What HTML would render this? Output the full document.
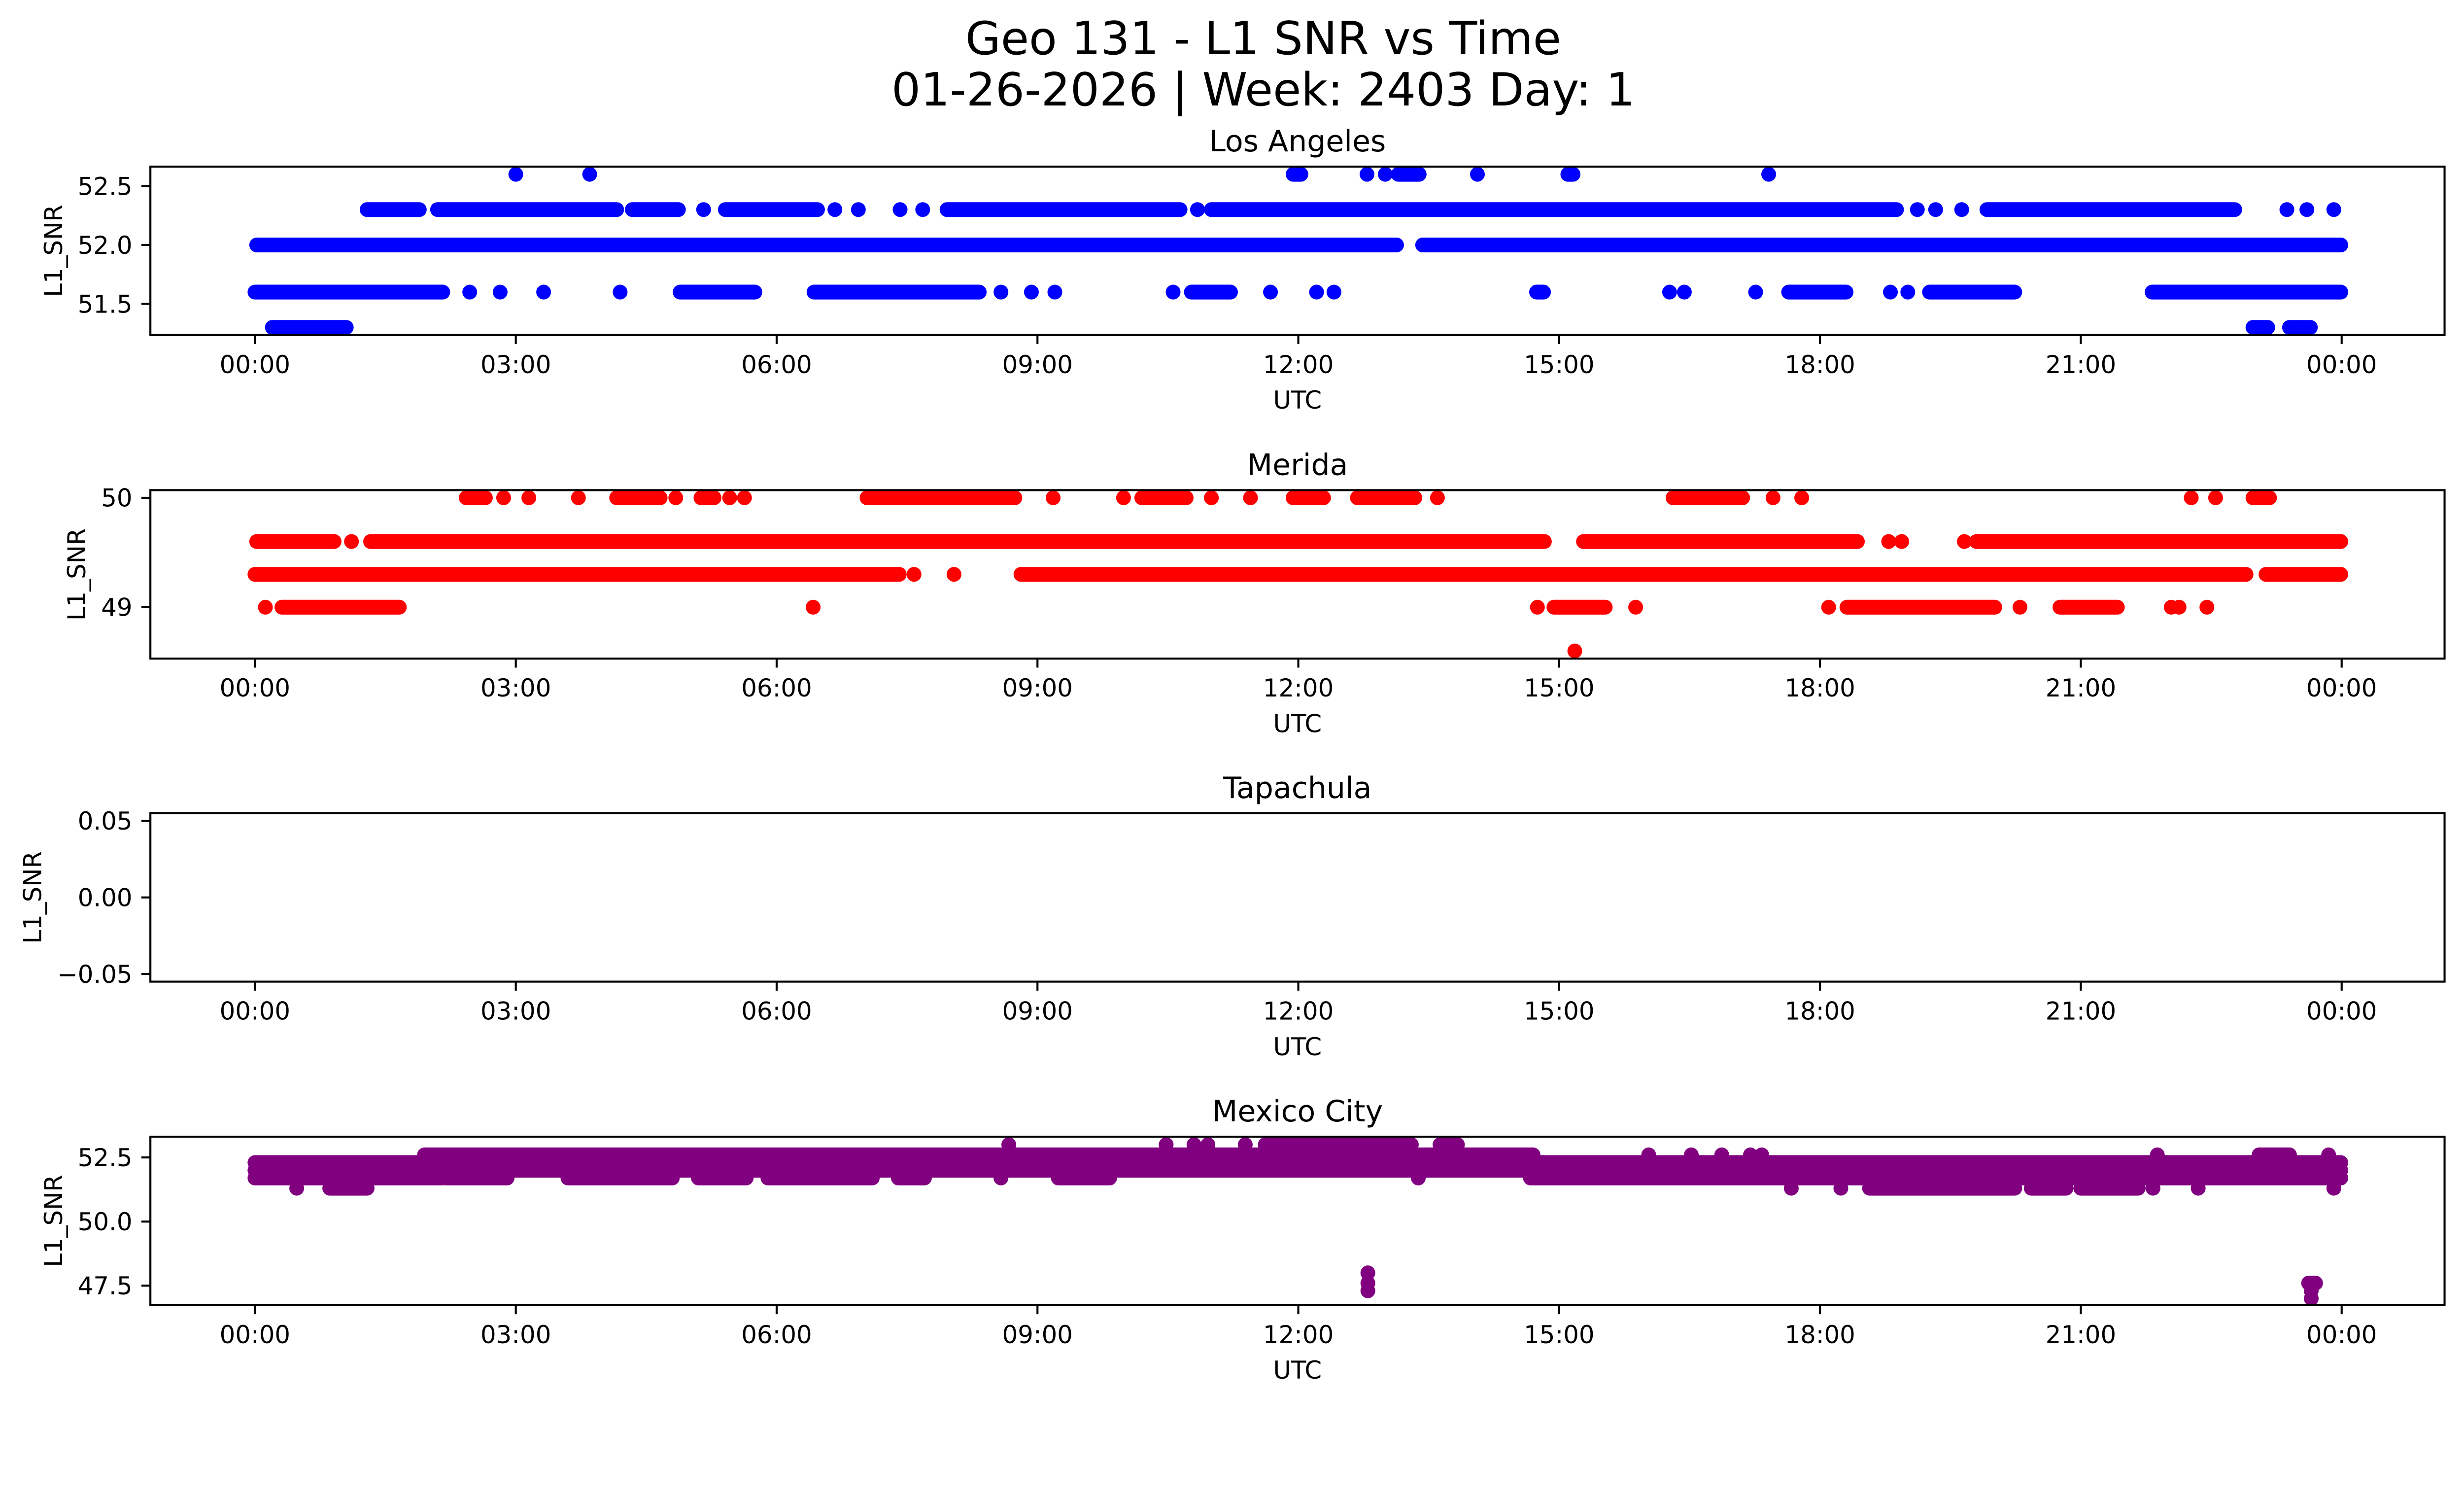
<!DOCTYPE html>
<html><head><meta charset="utf-8"><style>
html,body{margin:0;padding:0;background:#fff;overflow:hidden;}
svg{display:block;width:100vw;height:calc(100vw * 3033 / 5325);font-family:"DejaVu Sans","Liberation Sans",sans-serif;}
</style></head><body>
<svg id="fig" viewBox="0 0 5325 3033" preserveAspectRatio="none" xmlns="http://www.w3.org/2000/svg">
<rect x="0" y="0" width="5325" height="3033" fill="#fff"/>
<text x="2730" y="117" font-size="99" text-anchor="middle">Geo 131 - L1 SNR vs Time</text>
<text x="2730" y="228" font-size="99" text-anchor="middle">01-26-2026 | Week: 2403 Day: 1</text>
</svg>
<script>
// ---- data ----
const xTickHours = [0,3,6,9,12,15,18,21,24];
const xTickLabels = ["00:00","03:00","06:00","09:00","12:00","15:00","18:00","21:00","00:00"];
const stationNames = ["Los Angeles","Merida","Tapachula","Mexico City"];
const stationColors = ["#0000ff","#ff0000","#800080","#800080"];

const laLevels = [52.6,52.3,52.0,51.6,51.3];
const laRuns = [
 [[3.0],[3.85],[11.94,12.03],[12.79],[13.0],[13.15,13.39],[14.06],[15.1,15.16],[17.41]],
 [[1.29,1.89],[2.10,4.16],[4.34,4.87],[5.16],[5.41,6.47],[6.67],[6.94],[7.42],[7.68],[7.96,10.64],[10.84],[11.0,18.88],[19.12],[19.33],[19.63],[19.92,22.77],[23.37],[23.6],[23.91]],
 [[0.02,13.13],[13.43,23.99]],
 [[0,2.16],[2.47],[2.82],[3.32],[4.2],[4.89,5.75],[6.43,8.33],[8.58],[8.93],[9.2],[10.56],[10.77,11.22],[11.68],[12.21],[12.41],[14.74,14.82],[16.27],[16.44],[17.26],[17.64,18.3],[18.81],[19.01],[19.26,20.24],[21.82,23.99]],
 [[0.2,1.05],[22.98,23.15],[23.4,23.64]]
];
const laYTicks = [51.5,52.0,52.5];
const laYTickLabels = ["51.5","52.0","52.5"];
const laYLim = [51.235,52.665];

const meLevels = [50.0,49.6,49.3,49.0,48.6];
const meRuns = [
 [[2.43,2.65],[2.86],[3.15],[3.72],[4.16,4.66],[4.84],[5.13,5.28],[5.46],[5.63],[7.04,8.74],[9.18],[9.99],[10.2,10.71],[11.0],[11.45],[11.94,12.29],[12.68,13.34],[13.6],[16.31,17.11],[17.46],[17.79],[22.27],[22.55],[22.98,23.17]],
 [[0.02,0.91],[1.11],[1.33,14.83],[15.28,18.43],[18.79],[18.94],[19.66],[19.8,23.99]],
 [[0,7.41],[7.58],[8.04],[8.81,22.9],[23.13,23.99]],
 [[0.12],[0.31,1.66],[6.42],[14.75],[14.94,15.53],[15.88],[18.1],[18.31,20.01],[20.3],[20.76,21.42],[22.04],[22.13],[22.45]],
 [[15.18]]
];
const meYTicks = [49,50];
const meYTickLabels = ["49","50"];
const meYLim = [48.53,50.07];

const taLevels = [];
const taRuns = [];
const taYTicks = [-0.05,0,0.05];
const taYTickLabels = ["\u22120.05","0.00","0.05"];
const taYLim = [-0.055,0.055];

const mxLevels = [53.0,52.6,52.3,52.0,51.7,51.3,48.0,47.6,47.3,47.0];
const mxRuns = [
 [[8.67],[10.48],[10.8],[10.96],[11.39],[11.62,13.3],[13.63,13.83]],
 [[1.95,14.7],[16.03],[16.52],[16.87],[17.2],[17.33],[21.88],[23.05,23.4],[23.85]],
 [[0,23.99]],
 [[0,23.99]],
 [[0,2.15],[2.2,2.9],[3.6,4.8],[5.1,5.65],[5.9,7.1],[7.4,7.7],[8.58],[9.24,9.83],[13.38],[14.67,23.99]],
 [[0.48],[0.86,1.29],[17.67],[18.24],[18.57,20.24],[20.43,20.83],[21.0,21.66],[21.83],[22.35],[23.91]],
 [[12.8]],
 [[12.8],[23.62,23.7]],
 [[12.8],[23.65]],
 [[23.65]]
];
const mxYTicks = [47.5,50.0,52.5];
const mxYTickLabels = ["47.5","50.0","52.5"];
const mxYLim = [46.74,53.31];

// ---- layout ----
const NS = "http://www.w3.org/2000/svg";
const svg = document.getElementById('fig');
const AX_L = 325, AX_R = 5283, AX_H = 364;
const AX_TOPS = [360,1059,1757,2456];
const YLABEL_X = [134,184,89,134];
const X0 = 551, PX_PER_HOUR = 187.9;
const R = 16;
function xScale(h){ return X0 + h*PX_PER_HOUR; }
function mk(tag, attrs){ const e=document.createElementNS(NS,tag); for(const k in attrs) e.setAttribute(k,attrs[k]); return e; }

const panels = [
 {levels:laLevels, runs:laRuns, ticks:laYTicks, labels:laYTickLabels, lim:laYLim},
 {levels:meLevels, runs:meRuns, ticks:meYTicks, labels:meYTickLabels, lim:meYLim},
 {levels:taLevels, runs:taRuns, ticks:taYTicks, labels:taYTickLabels, lim:taYLim},
 {levels:mxLevels, runs:mxRuns, ticks:mxYTicks, labels:mxYTickLabels, lim:mxYLim}
];

panels.forEach((p, i) => {
  const top = AX_TOPS[i], bot = top + AX_H;
  const yScale = v => bot - (v - p.lim[0])/(p.lim[1]-p.lim[0])*AX_H;
  const g = mk('g', {});
  
  
  svg.appendChild(g);

  const clipId = 'clip'+i;
  const cp = mk('clipPath', {id:clipId});
  cp.appendChild(mk('rect', {x:AX_L, y:top, width:AX_R-AX_L, height:AX_H}));
  g.appendChild(cp);
  const marks = mk('g', {'clip-path':'url(#'+clipId+')'});
  
  
  g.appendChild(marks);

  p.levels.forEach((lv, li) => {
    const y = yScale(lv);
    p.runs[li].forEach(run => {
      let el;
      if (run.length === 1) {
        el = mk('circle', {cx:xScale(run[0]), cy:y, r:R, fill:stationColors[i]});
      } else {
        el = mk('line', {x1:xScale(run[0]), y1:y, x2:xScale(run[1]), y2:y, stroke:stationColors[i], 'stroke-width':2*R, 'stroke-linecap':'round'});
      }
      
      
      marks.appendChild(el);
    });
  });

  const fr = mk('rect', {x:AX_L, y:top, width:AX_R-AX_L, height:AX_H, fill:'none', stroke:'#000', 'stroke-width':4.4});
  
  
  g.appendChild(fr);

  xTickHours.forEach((h, k) => {
    const x = xScale(h);
    const t = mk('line', {x1:x, y1:bot, x2:x, y2:bot+19.5, stroke:'#000', 'stroke-width':4.4});
    
    
    g.appendChild(t);
    const tl = mk('text', {x:x, y:bot+82, 'font-size':53, 'text-anchor':'middle'});
    tl.textContent = xTickLabels[k];
    
    
    g.appendChild(tl);
  });
  p.ticks.forEach((v, k) => {
    const y = yScale(v);
    const t = mk('line', {x1:AX_L-19.5, y1:y, x2:AX_L, y2:y, stroke:'#000', 'stroke-width':4.4});
    
    
    g.appendChild(t);
    const tl = mk('text', {x:AX_L-39, y:y+19, 'font-size':53, 'text-anchor':'end'});
    tl.textContent = p.labels[k];
    
    
    g.appendChild(tl);
  });
  const xl = mk('text', {x:(AX_L+AX_R)/2, y:bot+159, 'font-size':53, 'text-anchor':'middle'});
  xl.textContent = 'UTC';
  
  
  g.appendChild(xl);
  const yc = top + AX_H/2;
  const yl = mk('text', {x:YLABEL_X[i], y:yc, 'font-size':53, 'text-anchor':'middle', transform:'rotate(-90 '+YLABEL_X[i]+' '+yc+')'});
  yl.textContent = 'L1_SNR';
  
  
  g.appendChild(yl);
  const tt = mk('text', {x:(AX_L+AX_R)/2, y:top-33, 'font-size':64, 'text-anchor':'middle'});
  tt.textContent = stationNames[i];
  
  
  g.appendChild(tt);
});
</script>
</body></html>
